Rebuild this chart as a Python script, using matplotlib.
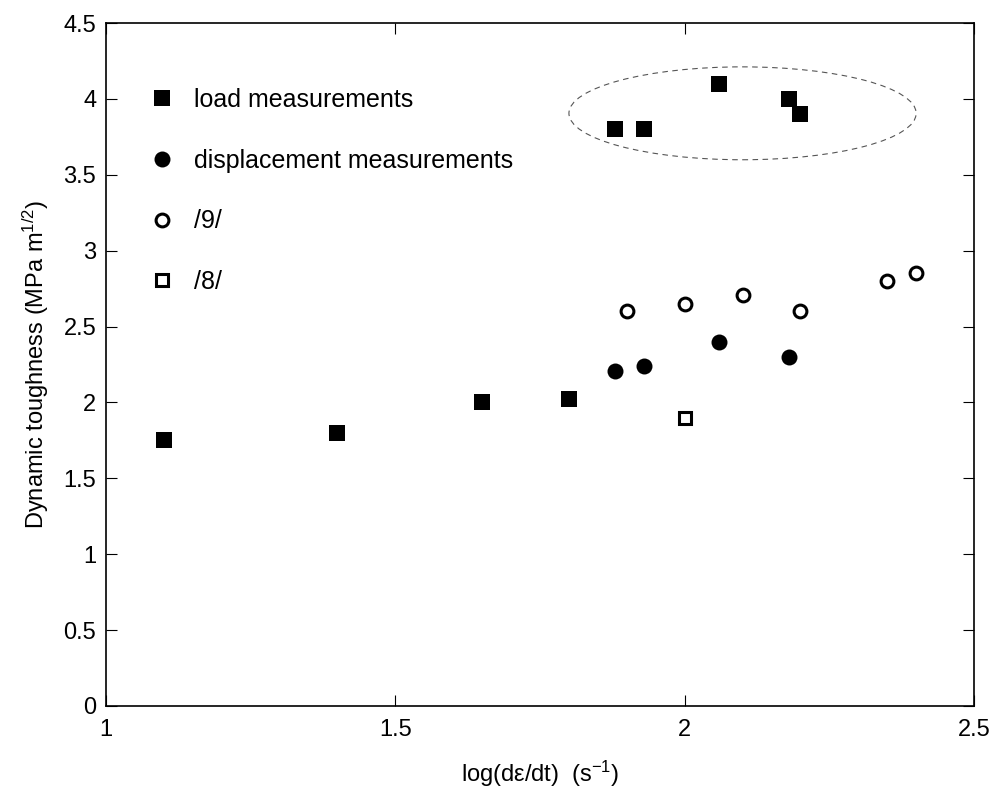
import matplotlib
matplotlib.use('Agg')
import matplotlib.pyplot as plt
from matplotlib.patches import Ellipse

plt.rcParams['font.family'] = ['Liberation Sans', 'DejaVu Sans']
plt.rcParams['mathtext.fontset'] = 'custom'
plt.rcParams['mathtext.rm'] = 'Liberation Sans'
plt.rcParams['mathtext.it'] = 'Liberation Sans:italic'

# load measurements
load_x = [1.1, 1.4, 1.65, 1.8, 1.88, 1.93, 2.06, 2.18, 2.2]
load_y = [1.75, 1.8, 2.0, 2.02, 3.8, 3.8, 4.1, 4.0, 3.9]

# displacement measurements
disp_x = [1.88, 1.93, 2.06, 2.18]
disp_y = [2.21, 2.24, 2.40, 2.30]

# ref /9/
ref9_x = [1.9, 2.0, 2.1, 2.2, 2.35, 2.4]
ref9_y = [2.60, 2.65, 2.71, 2.60, 2.80, 2.85]

# ref /8/
ref8_x = [2.0]
ref8_y = [1.90]

fs = 17

fig = plt.figure(figsize=(9.97, 7.92), dpi=100)
ax = fig.add_axes([106 / 997, 86 / 792, 868 / 997, 683 / 792])

ax.plot(load_x, load_y, 's', color='k', ms=11.5, mew=0, label='load measurements')
ax.plot(disp_x, disp_y, 'o', color='k', ms=11.5, mew=0, label='displacement measurements')
ax.plot(ref9_x, ref9_y, 'o', mfc='white', mec='k', ms=9.2, mew=2.2, label='/9/')
ax.plot(ref8_x, ref8_y, 's', mfc='white', mec='k', ms=8.8, mew=2.2, label='/8/')

# dashed ellipse round the high group
ell = Ellipse((2.1, 3.905), 0.6, 0.612, fill=False, ls=(0, (5, 4)), lw=0.8, ec='#555555')
ax.add_patch(ell)

ax.set_xlim(1, 2.5)
ax.set_ylim(0, 4.5)
ax.set_xticks([1, 1.5, 2, 2.5])
ax.set_xticklabels(['1', '1.5', '2', '2.5'])
ax.set_yticks([0, 0.5, 1, 1.5, 2, 2.5, 3, 3.5, 4, 4.5])
ax.set_yticklabels(['0', '0.5', '1', '1.5', '2', '2.5', '3', '3.5', '4', '4.5'])
ax.tick_params(direction='in', top=True, right=True, length=8, width=0.8,
               labelsize=fs, colors='k', pad=7)
ax.tick_params(axis='x', pad=9)
for s in ax.spines.values():
    s.set_linewidth(1.2)

ax.set_xlabel('log(d\u03b5/dt)  (s$^{-1}$)', fontsize=fs, labelpad=13)
ax.set_ylabel(r'Dynamic toughness (MPa m$^{1/2}$)', fontsize=fs, labelpad=9)

ax.legend(loc='upper left', bbox_to_anchor=(0.0533, 0.905), frameon=False,
          fontsize=18, labelspacing=1.47, handletextpad=0.85, handlelength=0.8,
          numpoints=1, borderaxespad=0, borderpad=0)

fig.savefig('out.png', dpi=100)
